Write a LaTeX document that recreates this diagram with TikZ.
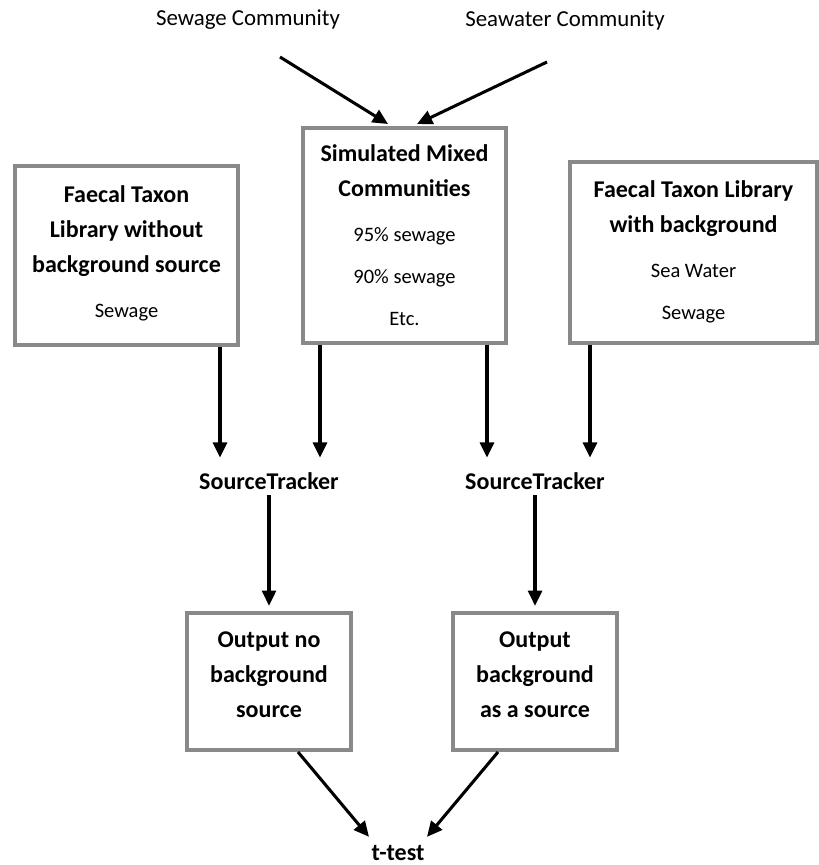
\documentclass[tikz,border=0pt]{standalone}
\usepackage{fontspec}
\setmainfont{Carlito}
\usetikzlibrary{arrows.meta,calc,positioning}
\definecolor{boxgrey}{RGB}{137,137,137}
\newcommand\pix{0.03cm}
\newcommand\boxnote[1]{{\mdseries\fontsize{17.5}{20}\selectfont #1}}
% extra depth under the last line, lifts the text a little in its box
\newcommand\lift[1]{\rule[-#1]{0pt}{0pt}}

\begin{document}
\begin{tikzpicture}[x=0.03cm, y=-0.03cm,
  box/.style={draw=boxgrey, line width=3.4pt, align=center, inner sep=0pt,
    font=\fontsize{20.5}{30}\selectfont\bfseries},
  flow/.style={line width=2.6pt, -{Triangle[length=13pt, width=12pt]}},
  tracker/.style={anchor=base, inner sep=0pt, text height=27pt, text depth=4.7pt,
    font=\fontsize{20.5}{24}\selectfont\bfseries},
  community/.style={font=\fontsize{19.5}{23}\selectfont}]
\useasboundingbox (0,0) rectangle (819,865);

% communities on top
\node[community] (sewage) at (248,20) {Sewage Community};
\node[community] (seawater) at (565,20) {Seawater Community};

% libraries and mixed communities
\node[box, minimum width=223*\pix, minimum height=179*\pix] (libplain) at (126.5,255.5)
  {Faecal Taxon\\Library without\\background source\\[8pt]\boxnote{Sewage}\lift{7pt}};
\node[box, minimum width=203*\pix, minimum height=215*\pix] (mixed) at (404.5,235.5)
  {Simulated Mixed\\Communities\\[8pt]\boxnote{95\% sewage}\\[6pt]\boxnote{90\% sewage}\\[6pt]\boxnote{Etc.}};
\node[box, minimum width=247*\pix, minimum height=181*\pix] (libback) at (693.5,252.5)
  {Faecal Taxon Library\\with background\\[8pt]\boxnote{Sea Water}\\[6pt]\boxnote{Sewage}\lift{4pt}};

% trackers
\node[tracker] (trackplain) at (269,489.5) {SourceTracker};
\node[tracker] (trackback) at (535,489.5) {SourceTracker};

% outputs
\node[box, minimum width=164*\pix, minimum height=137*\pix] (outplain) at (269,681.5)
  {Output no\\background\\source\lift{12pt}};
\node[box, minimum width=164*\pix, minimum height=137*\pix] (outback) at (535,681.5)
  {Output\\background\\as a source\lift{12pt}};
\node[anchor=base, inner xsep=2pt, inner ysep=0pt, text height=19.6pt,
  font=\fontsize{20.5}{24}\selectfont\bfseries] (ttest) at (398,860) {t-test};

% arrows
\coordinate (fromsewage) at (280,57);
\coordinate (fromseawater) at (547,62);
\draw[flow] (fromsewage) -- ($(mixed.north)+(-16.5,-2)$);
\draw[flow] (fromseawater) -- ($(mixed.north)+(12.5,-2)$);
\foreach \src/\dx/\dst/\ex in {libplain/93.5/trackplain/-49, mixed/-84.5/trackplain/51,
    mixed/82.5/trackback/-48, libback/-103.5/trackback/55}
  \draw[flow] ($(\src.south)+(\dx,0)$) -- ($(\dst.north)+(\ex,0)$);
\draw[flow, shorten >=4.5pt] (trackplain.south) -- (outplain.north);
\draw[flow, shorten >=4.5pt] (trackback.south) -- (outback.north);
\draw[flow] ($(outplain.south)+(29,0)$) -- (ttest.north west);
\draw[flow] ($(outback.south)+(-37,0)$) -- (ttest.north east);

\end{tikzpicture}
\end{document}
